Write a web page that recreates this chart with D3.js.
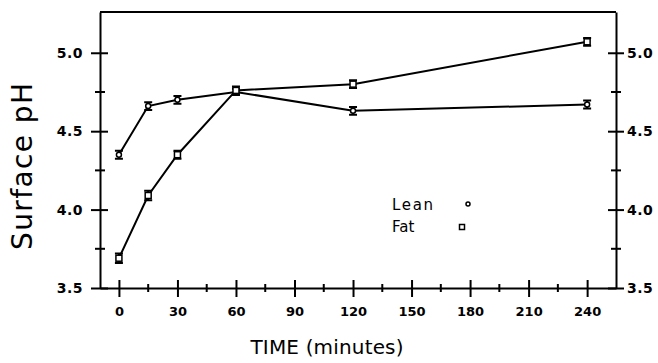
<!DOCTYPE html>
<html>
<head>
<meta charset="utf-8">
<script src="https://cdn.jsdelivr.net/npm/d3@7"></script>
<style>
  body { margin: 0; background: #fff; }
  svg { display: block; }
  .tick text { font-family: "DejaVu Sans", sans-serif; font-weight: bold; font-size: 13px; fill: #000; }
  .yax .tick text { font-size: 14px; letter-spacing: 0.5px; }
  .title { font-family: "DejaVu Sans", sans-serif; fill: #000; }
</style>
</head>
<body>
<div id="chart"></div>
<script>
// Time points (minutes)
const times = [0, 15, 30, 60, 120, 240];
// Surface pH means and error (+/-)
const lean = [4.35, 4.66, 4.70, 4.75, 4.63, 4.67];
const leanErr = [0.025, 0.025, 0.025, 0.02, 0.025, 0.025];
const fat = [3.69, 4.09, 4.35, 4.76, 4.80, 5.07];
const fatErr = [0.03, 0.03, 0.025, 0.025, 0.025, 0.025];

const xTicks = [0, 30, 60, 90, 120, 150, 180, 210, 240];
const yTicks = [3.5, 4.0, 4.5, 5.0];

const width = 658, height = 363;
const margin = { top: 12, right: 42, bottom: 75, left: 100 };

const svg = d3.select('#chart').append('svg')
    .attr('width', width)
    .attr('height', height);

const x = d3.scaleLinear().domain([-9.7, 254.8]).range([margin.left, width - margin.right]);
const y = d3.scaleLinear().domain([3.5, 5.26]).range([height - margin.bottom, margin.top]);

// frame top line
svg.append('line')
    .attr('x1', x.range()[0]).attr('x2', x.range()[1])
    .attr('y1', y.range()[1]).attr('y2', y.range()[1])
    .attr('stroke', '#000').attr('stroke-width', 2);

// minor ticks (drawn as crossing ticks)
function minorX(g) {
    g.selectAll(null)
        .data(d3.range(15, 241, 30))
        .enter().append('line')
        .attr('x1', d => x(d)).attr('x2', d => x(d))
        .attr('y1', y(3.5) - 4).attr('y2', y(3.5) + 4)
        .attr('stroke', '#000').attr('stroke-width', 2);
}
function minorY(g, xpos) {
    g.selectAll(null)
        .data([3.75, 4.25, 4.75])
        .enter().append('line')
        .attr('x1', xpos - 5).attr('x2', xpos + 5)
        .attr('y1', d => y(d)).attr('y2', d => y(d))
        .attr('stroke', '#000').attr('stroke-width', 2);
}

// X axis
const xAxis = svg.append('g')
    .attr('transform', `translate(0,${y(3.5)})`)
    .call(d3.axisBottom(x).tickValues(xTicks).tickSizeInner(9).tickSizeOuter(0).tickPadding(10));
xAxis.select('.domain').attr('stroke-width', 2);
xAxis.selectAll('.tick line').attr('y1', -8).attr('stroke-width', 2);
minorX(svg);

// Left Y axis
const yLeft = svg.append('g')
    .attr('class', 'yax')
    .attr('transform', `translate(${x.range()[0]},0)`)
    .call(d3.axisLeft(y).tickValues(yTicks).tickFormat(d3.format('.1f')).tickSizeInner(9).tickSizeOuter(0).tickPadding(8));
yLeft.select('.domain').attr('stroke-width', 2);
yLeft.selectAll('.tick line').attr('x1', 8).attr('stroke-width', 2);
minorY(svg, x.range()[0]);

// Right Y axis
const yRight = svg.append('g')
    .attr('class', 'yax')
    .attr('transform', `translate(${x.range()[1]},0)`)
    .call(d3.axisRight(y).tickValues(yTicks).tickFormat(d3.format('.1f')).tickSizeInner(8).tickSizeOuter(0).tickPadding(3));
yRight.select('.domain').attr('stroke-width', 2);
yRight.selectAll('.tick line').attr('x1', -8).attr('stroke-width', 2);
minorY(svg, x.range()[1]);

// titles
svg.append('text').attr('class', 'title')
    .attr('transform', `translate(32,166.5) rotate(-90)`)
    .attr('text-anchor', 'middle')
    .attr('textLength', 167)
    .style('font-size', '28px')
    .text('Surface pH');

svg.append('text').attr('class', 'title')
    .attr('x', 327).attr('y', 354)
    .attr('text-anchor', 'middle')
    .attr('textLength', 153)
    .style('font-size', '20px')
    .text('TIME (minutes)');

// lines
const line = d3.line().x(d => x(d[0])).y(d => y(d[1]));
const series = [
    { name: 'Lean', values: lean, err: leanErr, shape: 'circle' },
    { name: 'Fat', values: fat, err: fatErr, shape: 'square' }
];

series.forEach(s => {
    const pts = times.map((t, i) => [t, s.values[i], s.err[i]]);
    svg.append('path')
        .datum(pts)
        .attr('d', line)
        .attr('fill', 'none')
        .attr('stroke', '#000')
        .attr('stroke-width', 2);

    const g = svg.append('g');
    // error bars
    g.selectAll(null)
        .data(pts)
        .enter().append('path')
        .attr('d', d => {
            const cx = x(d[0]), y1 = y(d[1] + d[2]), y2 = y(d[1] - d[2]);
            return `M${cx - 4},${y1}H${cx + 4}M${cx},${y1}V${y2}M${cx - 4},${y2}H${cx + 4}`;
        })
        .attr('stroke', '#000').attr('stroke-width', 2).attr('fill', 'none');

    if (s.shape === 'circle') {
        g.selectAll(null)
            .data(pts)
            .enter().append('circle')
            .attr('cx', d => x(d[0])).attr('cy', d => y(d[1]))
            .attr('r', 2.5)
            .attr('fill', '#fff').attr('stroke', '#000').attr('stroke-width', 1.5);
    } else {
        g.selectAll(null)
            .data(pts)
            .enter().append('rect')
            .attr('x', d => x(d[0]) - 3).attr('y', d => y(d[1]) - 3)
            .attr('width', 6).attr('height', 6)
            .attr('fill', '#fff').attr('stroke', '#000').attr('stroke-width', 1.5);
    }
});

// legend
const legend = svg.append('g').style('font-family', '"DejaVu Sans", sans-serif').style('font-size', '15px');
legend.append('text').attr('x', 392).attr('y', 210).attr('textLength', 41).text('Lean');
legend.append('circle').attr('cx', 468).attr('cy', 204).attr('r', 2)
    .attr('fill', '#fff').attr('stroke', '#000').attr('stroke-width', 1.5);
legend.append('text').attr('x', 392).attr('y', 232).text('Fat');
legend.append('rect').attr('x', 459.5).attr('y', 224.5).attr('width', 5).attr('height', 5)
    .attr('fill', '#fff').attr('stroke', '#000').attr('stroke-width', 1.5);
</script>
</body>
</html>
